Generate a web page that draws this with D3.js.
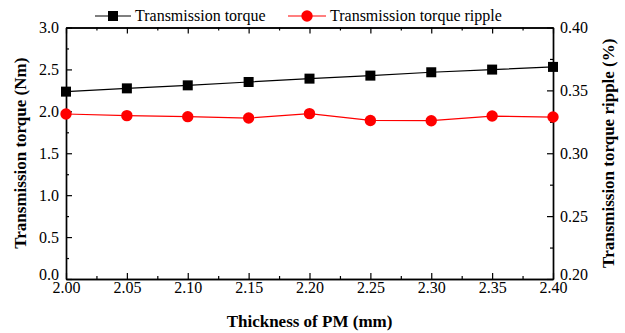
<!DOCTYPE html>
<html>
<head>
<meta charset="utf-8">
<script src="https://cdn.jsdelivr.net/npm/d3@7"></script>
<style>
  body { margin: 0; background: #fff; }
  svg text { font-family: "Liberation Serif", "Times New Roman", serif; }
</style>
</head>
<body>
<div id="chart"></div>
<script>
// values
const thickness = [2.00, 2.05, 2.10, 2.15, 2.20, 2.25, 2.30, 2.35, 2.40];
const torque = [2.235, 2.274, 2.31, 2.35, 2.39, 2.426, 2.466, 2.498, 2.53];
const ripple = [0.3312, 0.3299, 0.3291, 0.3280, 0.3315, 0.3261, 0.3259, 0.3296, 0.3288];

const xTicks = [2.00, 2.05, 2.10, 2.15, 2.20, 2.25, 2.30, 2.35, 2.40];
const leftTicks = [0.0, 0.5, 1.0, 1.5, 2.0, 2.5, 3.0];
const rightTicks = [0.20, 0.25, 0.30, 0.35, 0.40];

const width = 625, height = 333;
const margin = {top: 27.5, right: 72, bottom: 54, left: 66};
const serif = '"Liberation Serif", "Times New Roman", serif';

const svg = d3.select('#chart').append('svg')
    .attr('width', width)
    .attr('height', height)
    .attr('font-family', serif);

let x = d3.scaleLinear().domain([2.0, 2.4]).range([margin.left, width - margin.right]);
let yL = d3.scaleLinear().domain([0, 3]).range([height - margin.bottom, margin.top]);
let yR = d3.scaleLinear().domain([0.2, 0.4]).range([height - margin.bottom, margin.top]);

// minor ticks sit halfway between majors
function minors(ticks) {
    let out = [];
    for (let i = 0; i < ticks.length - 1; i++) out.push((ticks[i] + ticks[i + 1]) / 2);
    return out;
}

function styleAxis(g) {
    g.attr('font-family', serif);
    g.selectAll('path.domain').attr('stroke', '#000').attr('stroke-width', 1.4);
    g.selectAll('.tick line').attr('stroke', '#000').attr('stroke-width', 1.2);
    g.selectAll('.tick text').attr('font-size', 16).attr('fill', '#000');
}

const yBottom = height - margin.bottom;
const xRight = width - margin.right;

// bottom axis
svg.append('g').attr('transform', `translate(0,${yBottom})`)
    .call(d3.axisBottom(x).tickValues(xTicks).tickFormat(d3.format('.2f')).tickSize(-6).tickSizeOuter(0).tickPadding(3))
    .call(styleAxis);
svg.append('g').attr('transform', `translate(0,${yBottom})`)
    .call(d3.axisBottom(x).tickValues(minors(xTicks)).tickFormat('').tickSize(-3).tickSizeOuter(0))
    .call(styleAxis);

// top axis (ticks only)
svg.append('g').attr('transform', `translate(0,${margin.top})`)
    .call(d3.axisTop(x).tickValues(xTicks).tickFormat('').tickSize(-6).tickSizeOuter(0))
    .call(styleAxis);
svg.append('g').attr('transform', `translate(0,${margin.top})`)
    .call(d3.axisTop(x).tickValues(minors(xTicks)).tickFormat('').tickSize(-3).tickSizeOuter(0))
    .call(styleAxis);

// left axis
svg.append('g').attr('transform', `translate(${margin.left},0)`)
    .call(d3.axisLeft(yL).tickValues(leftTicks).tickFormat(d3.format('.1f')).tickSize(-6).tickSizeOuter(0).tickPadding(7))
    .call(styleAxis)
    .call(g => g.selectAll('.tick text').filter(d => d === 0).attr('dy', '0.05em'));
svg.append('g').attr('transform', `translate(${margin.left},0)`)
    .call(d3.axisLeft(yL).tickValues(minors(leftTicks)).tickFormat('').tickSize(-3).tickSizeOuter(0))
    .call(styleAxis);

// right axis
svg.append('g').attr('transform', `translate(${xRight},0)`)
    .call(d3.axisRight(yR).tickValues(rightTicks).tickFormat(d3.format('.2f')).tickSize(-6).tickSizeOuter(0).tickPadding(7))
    .call(styleAxis)
    .call(g => g.selectAll('.tick text').filter(d => d === 0.2).attr('dy', '0.05em'));
svg.append('g').attr('transform', `translate(${xRight},0)`)
    .call(d3.axisRight(yR).tickValues(minors(rightTicks)).tickFormat('').tickSize(-3).tickSizeOuter(0))
    .call(styleAxis);

// series
let torqueLine = d3.line().x((d, i) => x(thickness[i])).y(d => yL(d));
let rippleLine = d3.line().x((d, i) => x(thickness[i])).y(d => yR(d));

svg.append('path').datum(torque)
    .attr('d', torqueLine)
    .attr('fill', 'none').attr('stroke', '#000').attr('stroke-width', 1.2);

svg.append('path').datum(ripple)
    .attr('d', rippleLine)
    .attr('fill', 'none').attr('stroke', '#ff0000').attr('stroke-width', 1.2);

const sq = 10;
svg.selectAll('rect.torque').data(torque).enter().append('rect')
    .classed('torque', true)
    .attr('x', (d, i) => x(thickness[i]) - sq / 2)
    .attr('y', d => yL(d) - sq / 2)
    .attr('width', sq).attr('height', sq)
    .attr('fill', '#000');

svg.selectAll('circle.ripple').data(ripple).enter().append('circle')
    .classed('ripple', true)
    .attr('cx', (d, i) => x(thickness[i]))
    .attr('cy', d => yR(d))
    .attr('r', 5.7)
    .attr('fill', '#ff0000');

// axis titles
svg.append('text')
    .attr('x', (margin.left + xRight) / 2)
    .attr('y', 327)
    .attr('text-anchor', 'middle')
    .attr('font-size', 17).attr('font-weight', 'bold')
    .text('Thickness of PM (mm)');

svg.append('text')
    .attr('transform', `translate(26,${(margin.top + yBottom) / 2}) rotate(-90)`)
    .attr('text-anchor', 'middle')
    .attr('font-size', 17).attr('font-weight', 'bold')
    .text('Transmission torque (Nm)');

svg.append('text')
    .attr('transform', `translate(614,${(margin.top + yBottom) / 2}) rotate(-90)`)
    .attr('text-anchor', 'middle')
    .attr('font-size', 17).attr('font-weight', 'bold')
    .text('Transmission torque ripple (%)');

// legend
let legend = svg.append('g');
legend.append('line').attr('x1', 95).attr('x2', 131).attr('y1', 16).attr('y2', 16)
    .attr('stroke', '#000').attr('stroke-width', 1.2);
legend.append('rect').attr('x', 113 - sq / 2).attr('y', 16 - sq / 2)
    .attr('width', sq).attr('height', sq).attr('fill', '#000');
legend.append('text').attr('x', 135).attr('y', 21).attr('font-size', 16)
    .text('Transmission torque');

legend.append('line').attr('x1', 288).attr('x2', 326).attr('y1', 16).attr('y2', 16)
    .attr('stroke', '#ff0000').attr('stroke-width', 1.2);
legend.append('circle').attr('cx', 307).attr('cy', 16).attr('r', 5.7).attr('fill', '#ff0000');
legend.append('text').attr('x', 330).attr('y', 21).attr('font-size', 16)
    .text('Transmission torque ripple');
</script>
</body>
</html>
